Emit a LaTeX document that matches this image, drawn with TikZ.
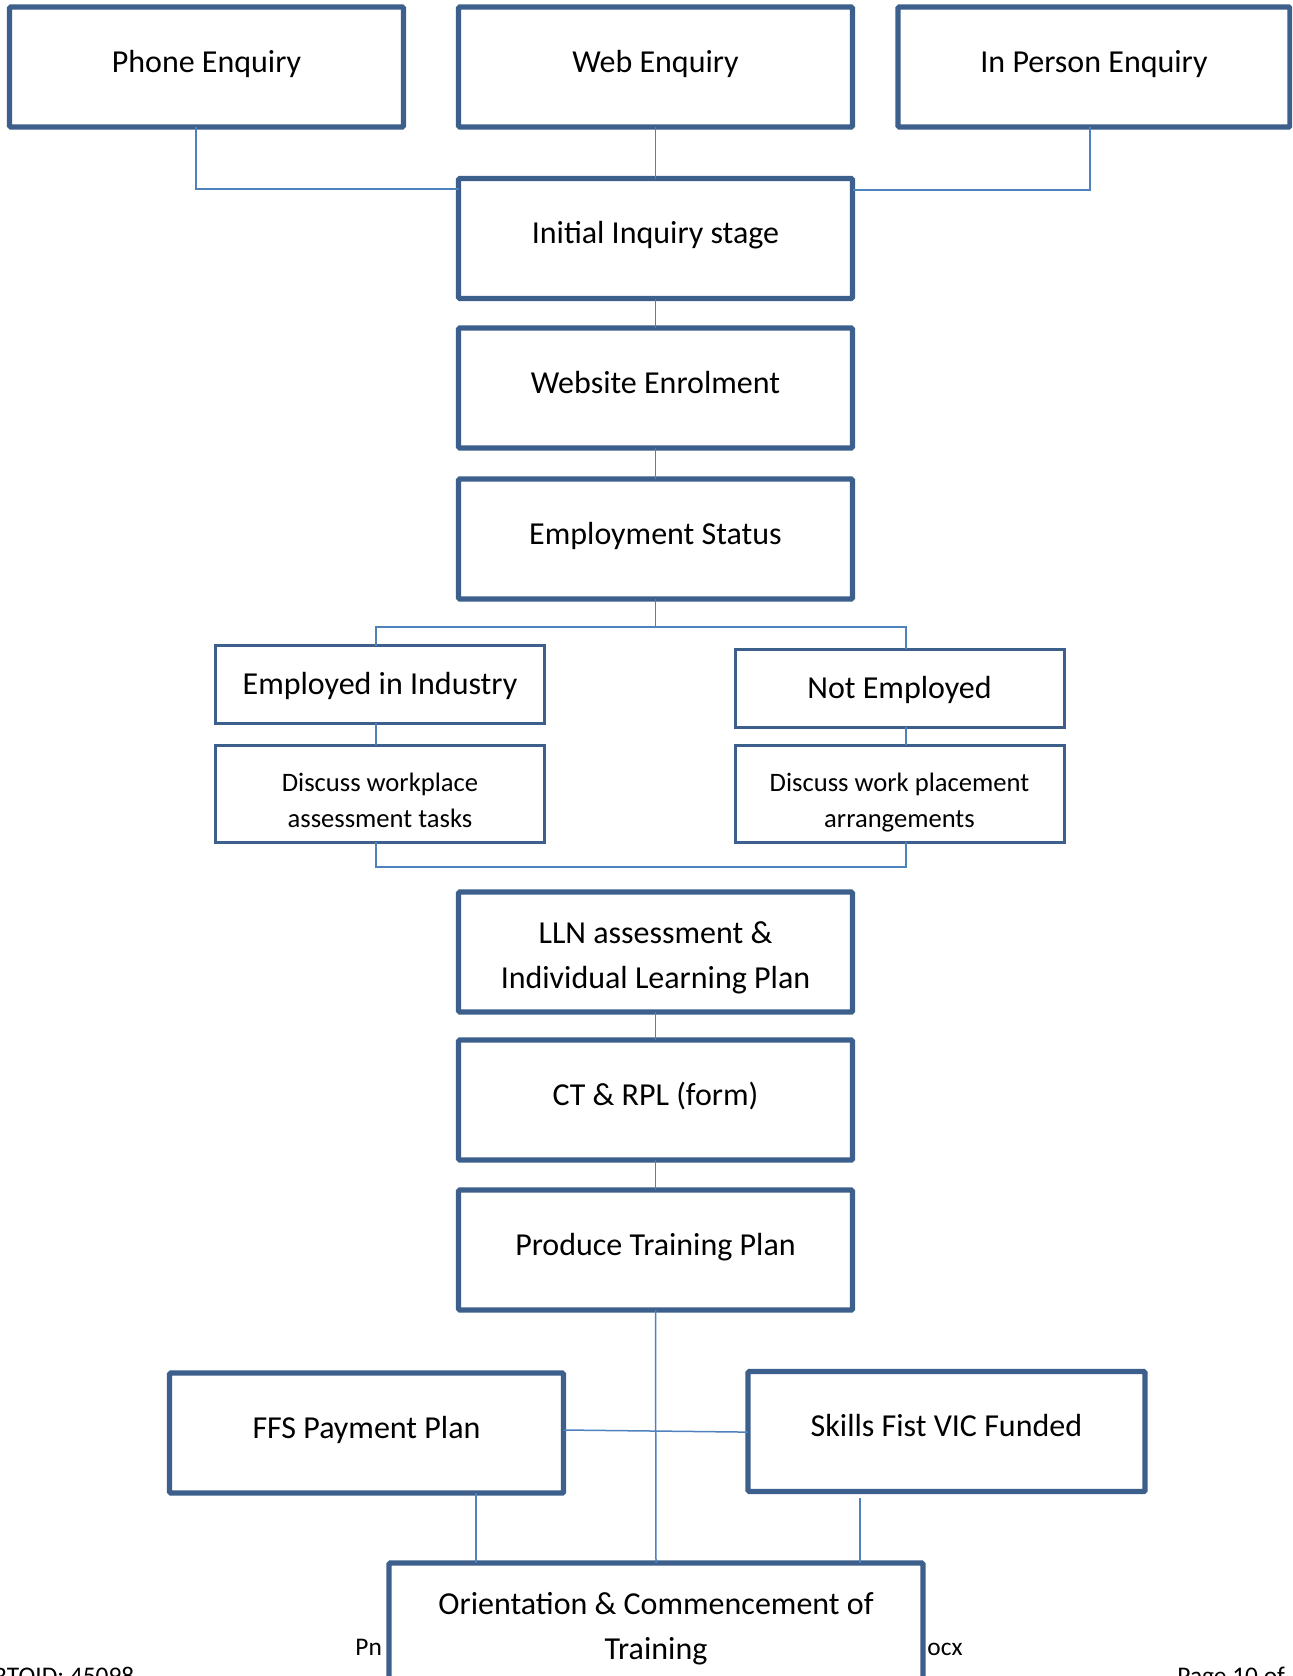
\documentclass[tikz,border=0pt]{standalone}
\usepackage{fontspec}
\setmainfont{Carlito}
\definecolor{boxline}{HTML}{3C5F8C}
\definecolor{conn}{HTML}{4F81BD}
\begin{document}
\begin{tikzpicture}[x=0.5pt,y=-0.5pt,
  bigbox/.style={draw=boxline, line width=2.6pt, fill=white, rounded corners=0.6pt,
    minimum width=197pt, minimum height=60pt, inner sep=0pt, outer sep=0pt,
    font=\fontsize{16}{22.5}\selectfont, text depth=5.8pt},
  smallbox/.style={draw=boxline, line width=1.5pt, fill=white,
    minimum width=164.5pt, inner sep=0pt, outer sep=0pt},
  conline/.style={draw=conn, line width=0.75pt},
  foot/.style={font=\fontsize{12.7}{15}\selectfont, inner sep=0pt}]
\useasboundingbox (0,0) rectangle (1292,1676);
\clip (0,0) rectangle (1292,1676);

% footer fragments (behind the last box)
\node[foot, anchor=base west] (ftpn) at (355,1655) {Pn};
\node[foot, anchor=base west] (ftocx) at (927,1655) {ocx};
\node[foot, anchor=base west] (ftrto) at (-7,1684) {RTOID: 45098};
\node[foot, anchor=base west] (ftpage) at (1177,1684) {Page 10 of};

% top row
\node[bigbox] (phone) at (206.5,67) {Phone Enquiry};
\node[bigbox] (web) at (655.5,67) {Web Enquiry};
\node[bigbox, minimum width=196pt] (inperson) at (1094,67) {In Person Enquiry};

% main column
\node[bigbox] (initial) at (655.5,238.5) {Initial Inquiry stage};
\node[bigbox] (website) at (655.5,388) {Website Enrolment};
\node[bigbox] (employment) at (655.5,539) {Employment Status};

% branches
\node[smallbox, minimum height=38.8pt, text depth=1pt, font=\fontsize{16}{22.5}\selectfont] (employed) at (380,684.5) {Employed in Industry};
\node[smallbox, minimum height=48.5pt, align=center, text height=33.9pt, text depth=0pt, font=\fontsize{13.3}{18.2}\selectfont] (discussA) at (380,793.5) {Discuss workplace\\assessment tasks};
\node[smallbox, minimum height=39pt, text depth=1pt, font=\fontsize{16}{22.5}\selectfont] (notemployed) at (899.5,688) {Not Employed};
\node[smallbox, minimum height=48.5pt, align=center, text height=33.9pt, text depth=0pt, font=\fontsize{13.3}{18.2}\selectfont] (discussB) at (899.5,793.5) {Discuss work placement\\arrangements};

\node[bigbox, align=center, text height=36.6pt, text depth=0pt] (lln) at (655.5,952) {LLN assessment \&\\Individual Learning Plan};
\node[bigbox] (ctrpl) at (655.5,1100) {CT \& RPL (form)};
\node[bigbox] (produce) at (655.5,1250) {Produce Training Plan};

\node[bigbox] (ffs) at (366.5,1433) {FFS Payment Plan};
\node[bigbox, minimum width=198.5pt] (skills) at (946.5,1431.5) {Skills Fist VIC Funded};

\node[bigbox, align=center, text height=34.4pt, text depth=0pt, minimum width=267pt, minimum height=62pt] (orient) at (656,1625) {Orientation \& Commencement of\\Training};

% connector coordinates
\coordinate (pj) at (196,189);
\coordinate (ij) at (1090,190);
\coordinate (bl) at (376,627);
\coordinate (brr) at (906,627);
\coordinate (ml) at (376,867);
\coordinate (mr) at (906,867);
\coordinate (fd) at (476,1500);
\coordinate (sd) at (860,1498);

\draw[conline] (phone.south -| pj) |- (initial.west |- pj);
\draw[conline] (web.south) -- (initial.north);
\draw[conline] (inperson.south -| ij) |- (initial.east |- ij);
\draw[conline] (initial.south) -- (website.north);
\draw[conline] (website.south) -- (employment.north);
\draw[conline] (employment.south) -- (employment.south |- bl);
\draw[conline] (employed.north -| bl) -- (bl) -- (brr) -- (notemployed.north -| brr);
\draw[conline] (employed.south -| bl) -- (discussA.north -| bl);
\draw[conline] (notemployed.south -| brr) -- (discussB.north -| brr);
\draw[conline] (discussA.south -| ml) -- (ml) -- (mr) -- (discussB.south -| mr);
\draw[conline] (lln.south) -- (ctrpl.north);
\draw[conline] (ctrpl.south) -- (produce.north);
\draw[conline] (produce.south) -- (orient.north);
\draw[conline] ([yshift=1.5pt]ffs.east) -- ([yshift=-0.3pt]skills.west);
\draw[conline] (ffs.south -| fd) -- (orient.north -| fd);
\draw[conline] (sd) -- (orient.north -| sd);
\end{tikzpicture}
\end{document}
